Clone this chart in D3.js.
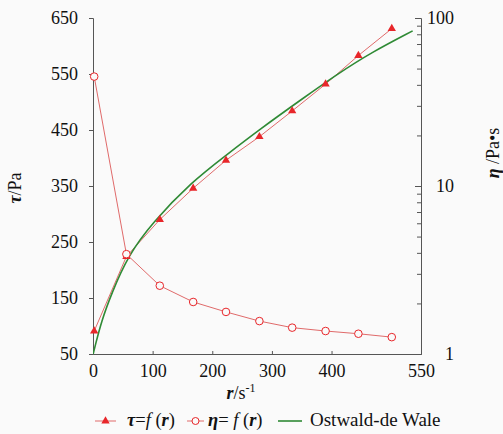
<!DOCTYPE html>
<html><head><meta charset="utf-8">
<script src="https://cdn.jsdelivr.net/npm/d3@7"></script>
<style>
html,body{margin:0;padding:0;background:#fafafa;}
svg text{font-family:"Liberation Serif","DejaVu Serif","Noto Serif",serif !important;}
</style></head>
<body><svg id="c" width="503" height="434"></svg>
<script>
// shear rate r (1/s)
const rate = [2, 56, 112, 168, 223, 279, 334, 390, 445, 501];
// shear stress tau (Pa) - left axis
const tau = [91, 224, 290, 346, 396, 438, 484, 532, 583, 631];
// viscosity eta (Pa·s) - right log axis
const eta = [44.8, 3.93, 2.55, 2.04, 1.78, 1.57, 1.435, 1.37, 1.32, 1.26];
// Ostwald-de Waele fitted curve
const owRate = [0.3, 3, 14, 31, 59, 99, 166, 222, 278, 354, 410, 466, 536];
const owTau  = [50, 62, 108, 158, 226, 284, 358, 404, 450, 508, 550, 588, 627];
// ticks
const xTicks = [0, 100, 200, 300, 400, 550];
const yLeftTicks = [50, 150, 250, 350, 450, 550, 650];
const yRightMajor = [1, 10, 100];

const svg = d3.select("#c");
const L = 93, R = 421, T = 18, B = 354;
const x = d3.scaleLinear().domain([0, 550]).range([L, R]);
const yL = d3.scaleLinear().domain([50, 650]).range([B, T]);
const yR = d3.scaleLog().domain([1, 100]).range([B, T]);

const axisCol = "#555";
const red = "#e8262a", redLine = "#e06a6a", green = "#2f8a35";
const FONT = '"Liberation Serif","DejaVu Serif","Noto Serif",serif';

// left axis
const gl = svg.append("g").attr("transform", `translate(${L},0)`)
  .call(d3.axisLeft(yL).tickValues(yLeftTicks).tickSize(4).tickPadding(11));
// bottom axis
const gb = svg.append("g").attr("transform", `translate(0,${B})`)
  .call(d3.axisBottom(x).tickValues(xTicks).tickSize(-3).tickPadding(7));
// right axis
const minor = [];
[1, 10].forEach(d => { for (let k = 2; k <= 9; k++) minor.push(d * k); });
const gr = svg.append("g").attr("transform", `translate(${R},0)`)
  .call(d3.axisRight(yR).tickValues(yRightMajor.concat(minor)).tickSize(-4).tickFormat(""));
gr.selectAll(".tick line").attr("x2", d => yRightMajor.includes(d) ? -6 : -4);
yRightMajor.forEach(v => {
  gr.append("text").attr("x", 33).attr("y", yR(v)).attr("dy", "0.35em")
    .attr("text-anchor", "end").attr("fill", "#111").attr("font-size", 18).text(v);
});
[gl, gb, gr].forEach(g => {
  g.attr("font-family", FONT);
  g.select(".domain").attr("stroke", axisCol);
  g.selectAll(".tick line").attr("stroke", axisCol);
  g.selectAll(".tick text").attr("fill", "#111").attr("font-size", 18);
});
gb.selectAll(".tick text").attr("dy", "0.9em");

// clip
svg.append("clipPath").attr("id", "clip").append("rect")
  .attr("x", L).attr("y", T - 10).attr("width", R - L).attr("height", B - T + 10);

const plot = svg.append("g");
const tauPts = rate.map((r, i) => [x(r), yL(tau[i])]);
plot.append("path").attr("d", d3.line()(tauPts)).attr("fill", "none")
  .attr("stroke", redLine).attr("stroke-width", 1);
const etaPts = rate.map((r, i) => [x(r), yR(eta[i])]);
plot.append("path").attr("d", d3.line()(etaPts)).attr("fill", "none")
  .attr("stroke", redLine).attr("stroke-width", 1);
const owPts = owRate.map((r, i) => [x(r), yL(owTau[i])]);
plot.append("path").attr("d", d3.line().curve(d3.curveBasis)(owPts))
  .attr("fill", "none").attr("stroke", green).attr("stroke-width", 1.6)
  .attr("clip-path", "url(#clip)");
const tri = d3.symbol().type(d3.symbolTriangle).size(30);
plot.selectAll(".tri").data(tauPts).join("path")
  .attr("transform", d => `translate(${d[0]},${d[1]})`).attr("d", tri).attr("fill", red);
plot.selectAll(".circ").data(etaPts).join("circle")
  .attr("cx", d => d[0]).attr("cy", d => d[1]).attr("r", 3.8)
  .attr("fill", "#fafafa").attr("stroke", red).attr("stroke-width", 1);

// axis titles
const tl = svg.append("text").attr("transform", "translate(21,188) rotate(-90)")
  .attr("text-anchor", "middle").attr("font-size", 18).attr("fill", "#111");
tl.append("tspan").attr("font-style", "italic").attr("font-weight", "bold").text("τ");
tl.append("tspan").text("/Pa");

const tr = svg.append("text").attr("transform", "translate(499,153) rotate(-90)")
  .attr("text-anchor", "middle").attr("font-size", 18).attr("fill", "#111");
tr.append("tspan").attr("font-style", "italic").attr("font-weight", "bold").text("η");
tr.append("tspan").text(" /Pa•s");

const tx = svg.append("text").attr("x", 241).attr("y", 399)
  .attr("text-anchor", "middle").attr("font-size", 18).attr("fill", "#111");
tx.append("tspan").attr("font-style", "italic").attr("font-weight", "bold").text("r");
tx.append("tspan").text("/s");
tx.append("tspan").attr("font-size", 12).attr("dy", -7).text("-1");

// legend
const ly = 426;
const lg = svg.append("g");
lg.append("line").attr("x1", 95).attr("x2", 116).attr("y1", ly - 5).attr("y2", ly - 5)
  .attr("stroke", redLine);
lg.append("path").attr("transform", `translate(105.5,${ly - 5})`).attr("d", tri).attr("fill", red);
const t1 = lg.append("text").attr("x", 127).attr("y", ly).attr("font-size", 18.5).attr("fill", "#111");
t1.append("tspan").attr("font-style", "italic").attr("font-weight", "bold").text("τ");
t1.append("tspan").text("=");
t1.append("tspan").attr("font-style", "italic").text("f");
t1.append("tspan").text(" (");
t1.append("tspan").attr("font-style", "italic").attr("font-weight", "bold").text("r");
t1.append("tspan").text(")");

lg.append("line").attr("x1", 187).attr("x2", 204).attr("y1", ly - 5).attr("y2", ly - 5)
  .attr("stroke", redLine);
lg.append("circle").attr("cx", 195.5).attr("cy", ly - 5).attr("r", 3.5)
  .attr("fill", "#fafafa").attr("stroke", red);
const t2 = lg.append("text").attr("x", 208).attr("y", ly).attr("font-size", 18.5).attr("fill", "#111");
t2.append("tspan").attr("font-style", "italic").attr("font-weight", "bold").text("η");
t2.append("tspan").text("= ");
t2.append("tspan").attr("font-style", "italic").text("f");
t2.append("tspan").text(" (");
t2.append("tspan").attr("font-style", "italic").attr("font-weight", "bold").text("r");
t2.append("tspan").text(")");

lg.append("line").attr("x1", 278).attr("x2", 302).attr("y1", ly - 5).attr("y2", ly - 5)
  .attr("stroke", green).attr("stroke-width", 1.6);
lg.append("text").attr("x", 310).attr("y", ly).attr("font-size", 19).attr("fill", "#111")
  .text("Ostwald-de Wale");
</script></body></html>
